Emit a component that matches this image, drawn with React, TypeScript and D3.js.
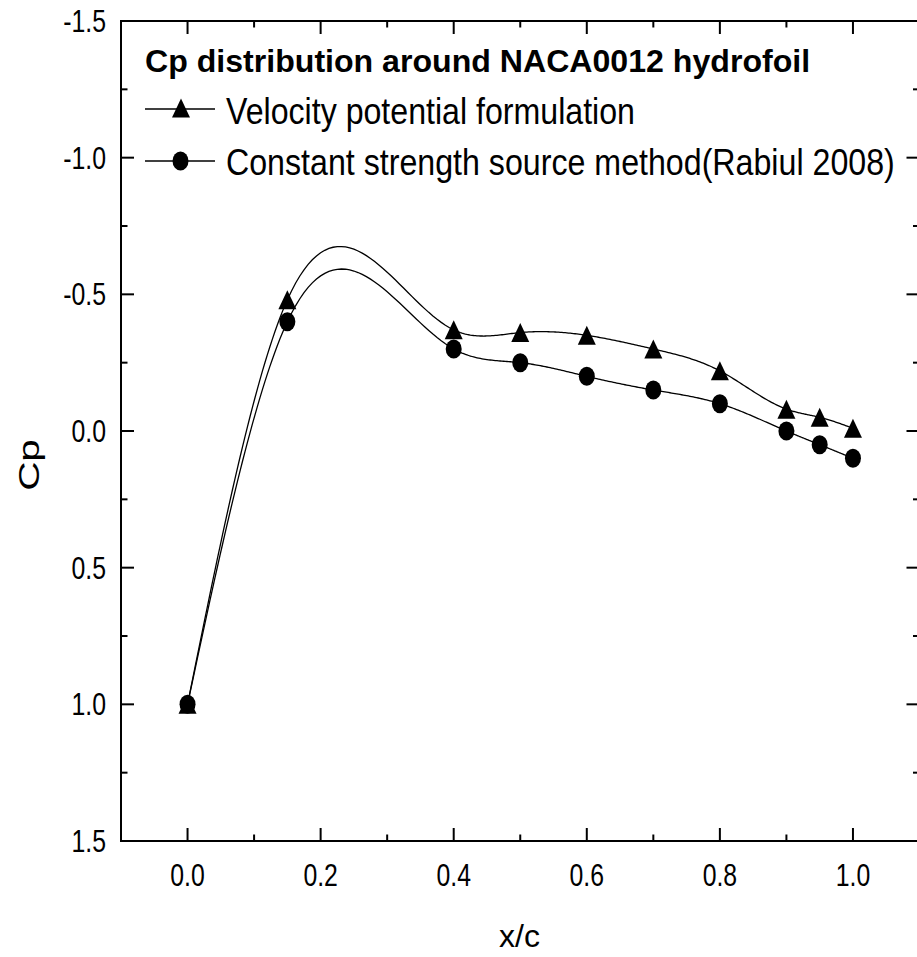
import React, { useLayoutEffect, useRef, useState } from "react";
import * as d3 from "d3";

const xPositions = [0, 0.15, 0.4, 0.5, 0.6, 0.7, 0.8, 0.9, 0.95, 1.0];
const velocityPotential = [1.0, -0.48, -0.37, -0.36, -0.35, -0.30, -0.22, -0.08, -0.05, -0.01];
const constantSource = [1.0, -0.40, -0.30, -0.25, -0.20, -0.15, -0.10, 0.0, 0.05, 0.10];
const xTicks = [0.0, 0.2, 0.4, 0.6, 0.8, 1.0];
const xMinorTicks = [-0.1, 0.1, 0.3, 0.5, 0.7, 0.9, 1.1];
const yTicks = [-1.5, -1.0, -0.5, 0.0, 0.5, 1.0, 1.5];
const yMinorTicks = [-1.25, -0.75, -0.25, 0.25, 0.75, 1.25];
const titleText = "Cp distribution around NACA0012 hydrofoil";
const seriesNames = ["Velocity potential formulation", "Constant strength source method(Rabiul 2008)"];

const W = 917;
const H = 957;
const L = 121, R = 919.5, T = 21, B = 841;
const FONT = "'Liberation Sans', Arial, Helvetica, sans-serif";

function naturalSpline(xs: number[], ys: number[]) {
  const n = xs.length;
  const h: number[] = [];
  for (let i = 0; i < n - 1; i++) h.push(xs[i + 1] - xs[i]);
  const a: number[] = new Array(n).fill(0);
  const b: number[] = new Array(n).fill(0);
  const c: number[] = new Array(n).fill(0);
  const d: number[] = new Array(n).fill(0);
  b[0] = 1; b[n - 1] = 1;
  for (let i = 1; i < n - 1; i++) {
    a[i] = h[i - 1];
    b[i] = 2 * (h[i - 1] + h[i]);
    c[i] = h[i];
    d[i] = 6 * ((ys[i + 1] - ys[i]) / h[i] - (ys[i] - ys[i - 1]) / h[i - 1]);
  }
  const cp = new Array(n).fill(0);
  const dp = new Array(n).fill(0);
  cp[0] = c[0] / b[0];
  dp[0] = d[0] / b[0];
  for (let i = 1; i < n; i++) {
    const m = b[i] - a[i] * cp[i - 1];
    cp[i] = c[i] / m;
    dp[i] = (d[i] - a[i] * dp[i - 1]) / m;
  }
  const M = new Array(n).fill(0);
  M[n - 1] = dp[n - 1];
  for (let i = n - 2; i >= 0; i--) M[i] = dp[i] - cp[i] * M[i + 1];
  return (x: number) => {
    let i = 0;
    while (i < n - 2 && x > xs[i + 1]) i++;
    const hi = h[i];
    const t1 = xs[i + 1] - x;
    const t2 = x - xs[i];
    return (
      (M[i] * t1 * t1 * t1) / (6 * hi) +
      (M[i + 1] * t2 * t2 * t2) / (6 * hi) +
      (ys[i] / hi - (M[i] * hi) / 6) * t1 +
      (ys[i + 1] / hi - (M[i + 1] * hi) / 6) * t2
    );
  };
}

function splinePoints(xs: number[], ys: number[]): [number, number][] {
  const f = naturalSpline(xs, ys);
  const pts: [number, number][] = [];
  for (let i = 0; i < xs.length - 1; i++) {
    const steps = 40;
    for (let k = 0; k < steps; k++) {
      const x = xs[i] + ((xs[i + 1] - xs[i]) * k) / steps;
      pts.push([x, f(x)]);
    }
  }
  pts.push([xs[xs.length - 1], ys[ys.length - 1]]);
  return pts;
}

function FitText(props: { x: number; y: number; width: number; fontSize: number; fontWeight?: string; children: string }) {
  const ref = useRef<SVGTextElement>(null);
  const [s, setS] = useState(0.85);
  useLayoutEffect(() => {
    if (ref.current) {
      const w = ref.current.getComputedTextLength();
      if (w > 0) setS(props.width / w);
    }
  }, [props.width, props.children]);
  return (
    <text ref={ref} transform={`translate(${props.x},${props.y}) scale(${s},1)`} fontSize={props.fontSize} fontWeight={props.fontWeight}>
      {props.children}
    </text>
  );
}

const triPath = "M0,-9.5L9,9.5L-9,9.5Z";
const TSX = 0.8;

export default function App() {
  const x = d3.scaleLinear().domain([-0.1, 1.1]).range([L, R]);
  const y = d3.scaleLinear().domain([-1.5, 1.5]).range([T, B]);
  const line = d3.line<[number, number]>().x((d) => x(d[0])).y((d) => y(d[1]));
  const p1 = line(splinePoints(xPositions, velocityPotential)) || "";
  const p2 = line(splinePoints(xPositions, constantSource)) || "";
  const major = 13, minor = 6.5;

  return (
    <svg width={W} height={H} style={{ position: "absolute", left: 0, top: 0, background: "#fff" }} fontFamily={FONT}>
      <rect x={0} y={0} width={W} height={H} fill="#fff" />
      <rect x={L} y={T} width={R - L} height={B - T} fill="none" stroke="#000" strokeWidth={2} />
      {xTicks.map((t) => (
        <g key={"xt" + t}>
          <line x1={x(t)} x2={x(t)} y1={B} y2={B - major} stroke="#000" strokeWidth={2} />
          <line x1={x(t)} x2={x(t)} y1={T} y2={T + major} stroke="#000" strokeWidth={2} />
          <text transform={`translate(${x(t)},886) scale(${TSX},1)`} textAnchor="middle" fontSize={31}>{t.toFixed(1)}</text>
        </g>
      ))}
      {xMinorTicks.map((t) => (
        <g key={"xm" + t}>
          <line x1={x(t)} x2={x(t)} y1={B} y2={B - minor} stroke="#000" strokeWidth={2} />
          <line x1={x(t)} x2={x(t)} y1={T} y2={T + minor} stroke="#000" strokeWidth={2} />
        </g>
      ))}
      {yTicks.map((t) => (
        <g key={"yt" + t}>
          <line x1={L} x2={L + major} y1={y(t)} y2={y(t)} stroke="#000" strokeWidth={2} />
          <line x1={R} x2={R - major} y1={y(t)} y2={y(t)} stroke="#000" strokeWidth={2} />
          <text transform={`translate(106,${y(t) + 11}) scale(${TSX},1)`} textAnchor="end" fontSize={31}>{t.toFixed(1)}</text>
        </g>
      ))}
      {yMinorTicks.map((t) => (
        <g key={"ym" + t}>
          <line x1={L} x2={L + minor} y1={y(t)} y2={y(t)} stroke="#000" strokeWidth={2} />
          <line x1={R} x2={R - minor} y1={y(t)} y2={y(t)} stroke="#000" strokeWidth={2} />
        </g>
      ))}
      <text x={519.5} y={947} textAnchor="middle" fontSize={32}>x/c</text>
      <text transform="translate(39,465) rotate(-90) scale(1.35,1)" textAnchor="middle" fontSize={30}>Cp</text>

      <path d={p1} fill="none" stroke="#000" strokeWidth={1.3} />
      <path d={p2} fill="none" stroke="#000" strokeWidth={1.3} />
      {xPositions.map((xv, i) => (
        <path key={"tri" + i} d={triPath} transform={`translate(${x(xv)},${y(velocityPotential[i])})`} fill="#000" />
      ))}
      {xPositions.map((xv, i) => (
        <ellipse key={"cir" + i} cx={x(xv)} cy={y(constantSource[i])} rx={8} ry={9.5} fill="#000" />
      ))}

      <FitText x={145} y={72} width={665} fontSize={32} fontWeight="bold">{titleText}</FitText>
      <line x1={145} x2={215} y1={109} y2={109} stroke="#000" strokeWidth={1.3} />
      <path d={triPath} transform="translate(181,108)" fill="#000" />
      <FitText x={226} y={124} width={409} fontSize={37}>{seriesNames[0]}</FitText>
      <line x1={145} x2={215} y1={161} y2={161} stroke="#000" strokeWidth={1.3} />
      <ellipse cx={180.5} cy={161} rx={8} ry={9.5} fill="#000" />
      <FitText x={226} y={175} width={669} fontSize={37}>{seriesNames[1]}</FitText>
    </svg>
  );
}
